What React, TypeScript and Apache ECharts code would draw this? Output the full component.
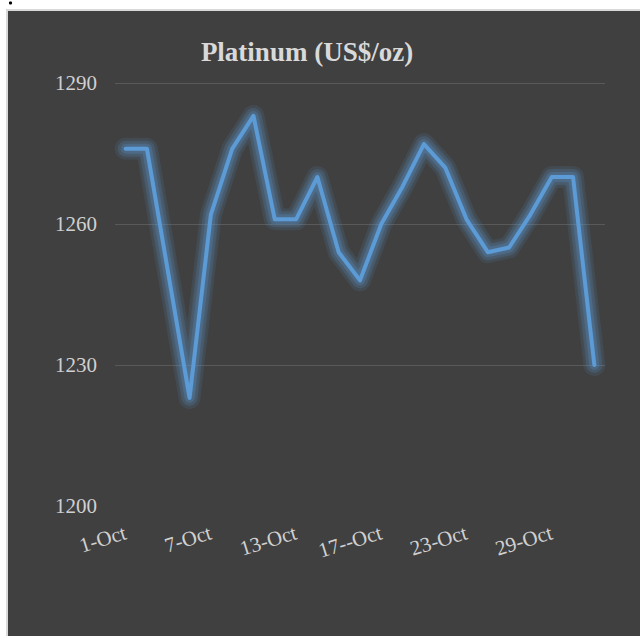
import React, { useEffect, useRef } from "react";
import * as echarts from "echarts";

// Trading days in October
const days: string[] = [
  "1-Oct", "2-Oct", "3-Oct", "4-Oct", "7-Oct", "8-Oct", "9-Oct", "10-Oct",
  "13-Oct", "14-Oct", "15-Oct", "16-Oct", "17--Oct", "20-Oct", "21-Oct", "22-Oct",
  "23-Oct", "24-Oct", "27-Oct", "28-Oct", "29-Oct", "30-Oct", "31-Oct",
];

// Platinum price, US$/oz
const platinum: number[] = [
  1276, 1276, 1249.5, 1223, 1262, 1276, 1283, 1261,
  1261, 1270, 1254, 1248, 1260, 1268, 1277, 1272,
  1261, 1254, 1255, 1262, 1270, 1270, 1230,
];

const yTicks: number[] = [1200, 1230, 1260, 1290];

const FONT = "'Liberation Serif', 'Times New Roman', serif";

// Glow layers drawn under the price line: [width, opacity]
const glowLayers: [number, number][] = [
  [22, 0.11],
  [16, 0.15],
  [10, 0.2],
];

export default function App() {
  const ref = useRef<HTMLDivElement>(null);

  useEffect(() => {
    if (!ref.current) return;
    const chart = echarts.init(ref.current, undefined, { renderer: "svg" });

    const glowSeries = glowLayers.map(([w, a], i) => ({
      name: `glow${i}`,
      type: "line",
      data: platinum,
      symbol: "none",
      silent: true,
      z: 1,
      lineStyle: {
        color: `rgba(91,155,213,${a})`,
        width: w,
        cap: "round",
        join: "round",
      },
    }));

    chart.setOption({
      animation: false,
      backgroundColor: "#ffffff",
      graphic: [
        {
          type: "rect",
          z: -10,
          silent: true,
          shape: { x: 7, y: 10, width: 640, height: 640 },
          style: { fill: "#404040", stroke: "#d9d9d9", lineWidth: 2 },
        },
        {
          type: "circle",
          silent: true,
          shape: { cx: 10.5, cy: 3, r: 1.6 },
          style: { fill: "#000000" },
        },
      ],
      title: {
        text: "Platinum (US$/oz)",
        left: 302,
        textAlign: "center",
        top: 33,
        textStyle: {
          fontFamily: FONT,
          fontWeight: "bold",
          fontSize: 27,
          color: "#d9d9d9",
        },
      },
      grid: { left: 115, right: 35, top: 83, bottom: 130, containLabel: false },
      xAxis: {
        type: "category",
        data: days,
        boundaryGap: true,
        axisLine: { show: false },
        axisTick: { show: false },
        axisLabel: {
          interval: 3,
          rotate: 17,
          margin: 26,
          fontFamily: FONT,
          fontSize: 21,
          color: "#d0d0d0",
        },
      },
      yAxis: {
        type: "value",
        min: yTicks[0],
        max: yTicks[yTicks.length - 1],
        interval: yTicks[1] - yTicks[0],
        axisLine: { show: false },
        axisTick: { show: false },
        axisLabel: {
          margin: 18,
          fontFamily: FONT,
          fontSize: 21,
          color: "#d0d0d0",
          formatter: (v: number) => String(v),
        },
        splitLine: {
          showMinLine: false,
          lineStyle: { color: "#595959", width: 1 },
        },
      },
      series: [
        ...glowSeries,
        {
          name: "Platinum",
          type: "line",
          data: platinum,
          symbol: "none",
          z: 2,
          lineStyle: {
            color: "#5b9bd5",
            width: 4,
            cap: "round",
            join: "round",
            shadowBlur: 8,
            shadowColor: "rgba(91,155,213,0.5)",
          },
        },
      ],
    });
    return () => chart.dispose();
  }, []);

  return (
    <div
      ref={ref}
      style={{ position: "fixed", left: 0, top: 0, width: 640, height: 636 }}
    />
  );
}
